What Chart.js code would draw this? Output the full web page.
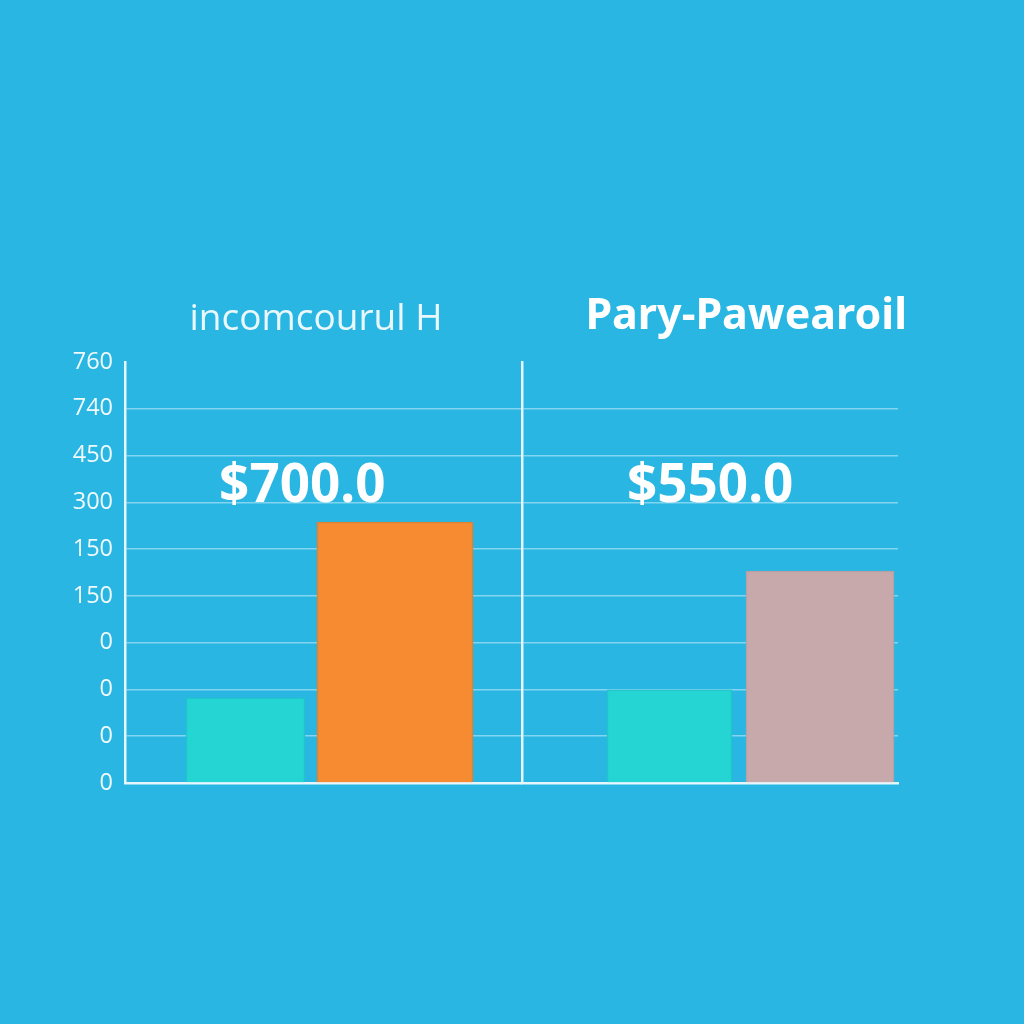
<!DOCTYPE html>
<html>
<head>
<meta charset="utf-8">
<script src="https://cdn.jsdelivr.net/npm/chart.js@4.4.1/dist/chart.umd.min.js"></script>
<style>
  body { margin: 0; background: #29b6e3; width: 1024px; height: 1024px; overflow: hidden; }
  #wrap { position: relative; width: 1024px; height: 1024px; }
  canvas { position: absolute; top: 0; }
  #left { left: 0; }
  #right { left: 480px; }
</style>
</head>
<body>
<div id="wrap">
  <canvas id="left" width="640" height="1024"></canvas>
  <canvas id="right" width="544" height="1024"></canvas>
</div>
<script>
// valores (em passos da escala do eixo y)
const tickLabels = ['0', '0', '0', '0', '150', '150', '300', '450', '740', '760'];
const panelTitles = ['incomcourul H', 'Pary-Pawearoil'];
const valueLabels = ['$700.0', '$550.0'];
const slots = [1, 2];
const firstValues = [1.82, 1.99];
const secondValues = [5.58, 4.53];
const firstColor = '#25d5d3';
const secondColors = ['#f78b31', '#c8a9ab'];
const secondBorders = ['#e3802d', '#b9a0a5'];

const gridColor = 'rgba(255,255,255,0.42)';
const axisColor = '#e6f6fc';

// escreve o valor grande em cima do painel
const valueLabel = {
  id: 'valueLabel',
  afterDatasetsDraw(chart, args, opts) {
    const ctx = chart.ctx;
    ctx.save();
    ctx.font = 'bold 53px "Noto Sans"';
    ctx.fillStyle = '#ffffff';
    ctx.textAlign = 'center';
    ctx.textBaseline = 'middle';
    ctx.fillText(opts.text, chart.scales.x.getPixelForValue(opts.x), chart.scales.y.getPixelForValue(opts.y));
    ctx.restore();
  }
};

function montaPainel(p, canvasId, cfg) {
  const ctx = document.getElementById(canvasId).getContext('2d');
  return new Chart(ctx, {
    type: 'bar',
    data: {
      labels: slots,
      datasets: [
        {
          data: [firstValues[p], null],
          backgroundColor: firstColor,
          borderColor: '#20c5ca',
          borderWidth: 1.5,
          barThickness: cfg.widths[0],
          grouped: false
        },
        {
          data: [null, secondValues[p]],
          backgroundColor: secondColors[p],
          borderColor: secondBorders[p],
          borderWidth: 1.5,
          barThickness: cfg.widths[1],
          grouped: false
        }
      ]
    },
    plugins: [valueLabel],
    options: {
      responsive: false,
      animation: false,
      layout: { padding: cfg.padding },
      plugins: {
        legend: { display: false },
        tooltip: { enabled: false },
        title: {
          display: true,
          text: panelTitles[p],
          align: cfg.titleAlign,
          color: cfg.titleColor,
          font: { family: cfg.titleFont, size: cfg.titleSize, weight: cfg.titleWeight },
          padding: cfg.titlePadding
        },
        valueLabel: { text: valueLabels[p], x: cfg.labelX, y: 6.34 }
      },
      scales: {
        x: {
          type: 'linear',
          offset: false,
          min: cfg.xMin,
          max: cfg.xMax,
          ticks: { display: false },
          grid: { display: false, drawTicks: false },
          border: { display: true, color: axisColor, width: 2.5 },
          afterFit: (s) => { s.height = 0; }
        },
        y: {
          min: 0,
          max: 9,
          ticks: {
            display: cfg.showTicks,
            stepSize: 1,
            padding: 12,
            color: 'rgba(255,255,255,0.93)',
            font: { family: 'Open Sans', size: 23.5 },
            callback: (v) => tickLabels[v]
          },
          grid: {
            drawTicks: false,
            lineWidth: 1.5,
            color: (c) => (c.tick && (c.tick.value === 0 || c.tick.value === 9)) ? 'rgba(0,0,0,0)' : gridColor
          },
          border: { display: true, color: axisColor, width: 2.5 },
          afterFit: (s) => { s.width = cfg.axisWidth; }
        },
        // eixo vazio, so para reservar espaco a direita
        y2: {
          position: 'right',
          ticks: { display: false },
          grid: { display: false, drawTicks: false },
          border: { display: false },
          afterFit: (s) => { s.width = cfg.rightSpace; }
        }
      }
    }
  });
}

montaPainel(0, 'left', {
  widths: [119, 156],
  padding: { left: 0, top: 0, right: 8, bottom: 241 },
  axisWidth: 125,
  rightSpace: 111,
  showTicks: true,
  xMin: 0.194,
  xMax: 2.843,
  labelX: 1.38,
  titleAlign: 'center',
  titleColor: 'rgba(255,255,255,0.9)',
  titleFont: 'Open Sans',
  titleSize: 37,
  titleWeight: 'normal',
  titlePadding: { top: 297, bottom: 20.6 }
});

montaPainel(1, 'right', {
  widths: [125, 148],
  padding: { left: 42, top: 0, right: 117, bottom: 241 },
  axisWidth: 0,
  rightSpace: 9,
  showTicks: false,
  xMin: 0.02,
  xMax: 2.518,
  labelX: 1.27,
  titleAlign: 'end',
  titleColor: '#ffffff',
  titleFont: 'Noto Sans',
  titleSize: 43,
  titleWeight: 'bold',
  titlePadding: { top: 291, bottom: 19.4 }
});
</script>
</body>
</html>
